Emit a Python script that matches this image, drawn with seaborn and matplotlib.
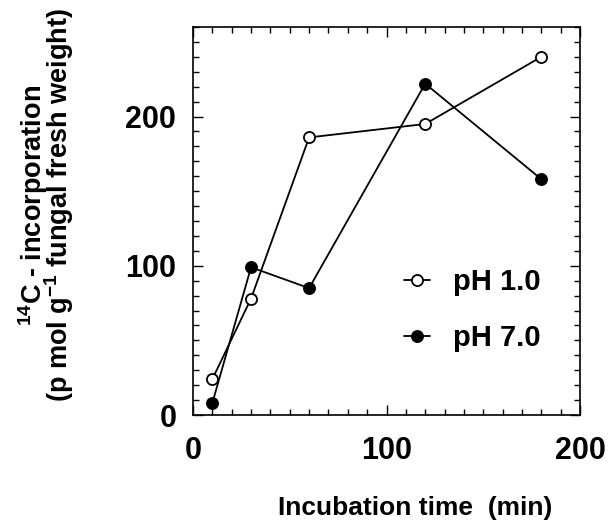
import pandas as pd
import matplotlib
matplotlib.use("Agg")
import matplotlib.pyplot as plt
import seaborn as sns
from matplotlib.ticker import MultipleLocator

# dados
tempo = [10, 30, 60, 120, 180]
ph1 = [24, 78, 186, 195, 240]
ph7 = [8, 99, 85, 222, 158]

df = pd.DataFrame({"tempo": tempo * 2,
                   "valor": ph1 + ph7,
                   "serie": ["pH 1.0"] * 5 + ["pH 7.0"] * 5})

sns.set_theme(style="ticks")
plt.rcParams["font.family"] = ["Liberation Sans", "DejaVu Sans"]
plt.rcParams["font.weight"] = "bold"
plt.rcParams["text.color"] = "black"
plt.rcParams["axes.labelcolor"] = "black"
plt.rcParams["xtick.color"] = "black"
plt.rcParams["ytick.color"] = "black"
plt.rcParams["mathtext.fontset"] = "custom"
plt.rcParams["mathtext.rm"] = "Liberation Sans:bold"
plt.rcParams["mathtext.it"] = "Liberation Sans:bold"
plt.rcParams["mathtext.bf"] = "Liberation Sans:bold"

fig = plt.figure(figsize=(6.08, 5.25), dpi=100)
ax = fig.add_axes([0.3174, 0.2095, 0.6366, 0.7391])

sns.lineplot(data=df[df.serie == "pH 1.0"], x="tempo", y="valor", ax=ax,
             color="black", lw=1.3, marker="o", ms=8, mfc="white", mec="black",
             mew=1.3, label="pH 1.0")
sns.lineplot(data=df[df.serie == "pH 7.0"], x="tempo", y="valor", ax=ax,
             color="black", lw=1.3, marker="o", ms=8, mfc="black", mec="black",
             mew=1.3, label="pH 7.0")

ax.set_xlim(0, 200)
ax.set_ylim(0, 260)
ax.xaxis.set_major_locator(MultipleLocator(100))
ax.xaxis.set_minor_locator(MultipleLocator(10))
ax.yaxis.set_major_locator(MultipleLocator(100))
ax.yaxis.set_minor_locator(MultipleLocator(10))
ax.tick_params(which="both", direction="in", top=True, right=True, width=1, color="black")
ax.tick_params(which="major", length=7, labelsize=22)
ax.tick_params(which="minor", length=4)
ax.tick_params(axis="x", pad=15)
ax.tick_params(axis="y", pad=12)
for s in ax.spines.values():
    s.set_linewidth(1.2)
    s.set_color("black")

ax.set_xlabel("Incubation time  (min)", fontsize=19, fontweight="bold", labelpad=22)
ax.xaxis.label.set_x(0.574)
ax.set_ylabel("$^{14}$C - incorporation\n(p mol g$^{-1}$ fungal fresh weight)",
              fontsize=19.5, fontweight="bold", linespacing=0.7)
ax.yaxis.set_label_coords(-0.302, 0.54)

leg = ax.legend(loc="center left", bbox_to_anchor=(0.514, 0.27), frameon=False,
                fontsize=21, handlelength=0.9, handletextpad=0.8, labelspacing=0.95,
                borderaxespad=0)
for t in leg.get_texts():
    t.set_fontweight("bold")

fig.savefig("out.png", dpi=100)
